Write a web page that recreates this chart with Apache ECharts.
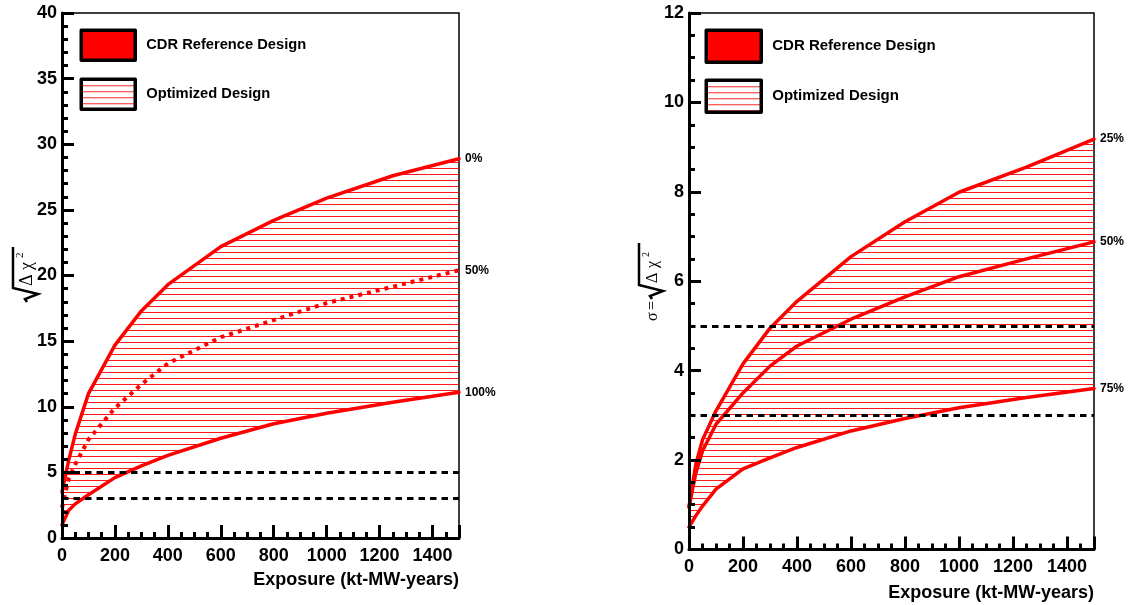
<!DOCTYPE html>
<html>
<head>
<meta charset="utf-8">
<script src="https://cdn.jsdelivr.net/npm/echarts@6/dist/echarts.min.js"></script>
<style>
  html, body { margin: 0; padding: 0; background: #fff; }
  #chart { width: 1132px; height: 605px; }
</style>
</head>
<body>
<div id="chart"></div>
<script>
// exposure sample points (kt-MW-years)
const exposure = [0, 25, 50, 100, 200, 300, 400, 600, 800, 1000, 1250, 1500]

// left panel: sqrt(dchi2) for 0%, 50%, 100%
const leftTop = [3.5, 5.9, 7.9, 11.0, 14.7, 17.3, 19.3, 22.2, 24.2, 25.9, 27.6, 28.9]
const leftMid = [2.3, 4.5, 5.6, 7.5, 9.9, 11.7, 13.3, 15.3, 16.6, 17.9, 19.15, 20.4]
const leftLow = [1.0, 2.1, 2.6, 3.3, 4.6, 5.5, 6.3, 7.6, 8.7, 9.5, 10.35, 11.1]
const leftTags = ['0%', '50%', '100%']

// right panel: sigma for 25%, 50%, 75%
const rightTop = [0.95, 1.9, 2.45, 3.1, 4.15, 4.95, 5.55, 6.55, 7.33, 7.99, 8.55, 9.18]
const rightMid = [0.95, 1.7, 2.2, 2.8, 3.5, 4.1, 4.55, 5.15, 5.65, 6.1, 6.5, 6.88]
const rightLow = [0.5, 0.75, 0.97, 1.35, 1.8, 2.05, 2.28, 2.65, 2.93, 3.17, 3.4, 3.6]
const rightTags = ['25%', '50%', '75%']

const thresholds = [3, 5]
const xTicks = { min: 0, max: 1500, interval: 200 }
const leftY = { min: 0, max: 40, interval: 5, minor: 5 }
const rightY = { min: 0, max: 12, interval: 2, minor: 4 }

const FONT = '"Liberation Sans", Arial, sans-serif'
const SYM = '"Liberation Serif", "DejaVu Serif", serif'
const RED = '#ff0000'

function hatch() {
  const c = document.createElement('canvas')
  c.width = 8
  c.height = 6
  const ctx = c.getContext('2d')
  ctx.fillStyle = 'rgba(255,0,0,0.9)'
  ctx.fillRect(0, 0, 8, 1)
  return { image: c, repeat: 'repeat' }
}
const hatchFill = hatch()

const pts = ys => exposure.map((x, i) => [x, ys[i]])

function xAxisOpt(idx, nameTop) {
  return {
    type: 'value',
    gridIndex: idx,
    min: xTicks.min,
    max: xTicks.max,
    interval: xTicks.interval,
    name: 'Exposure (kt-MW-years)',
    nameLocation: 'end',
    nameGap: 0,
    nameTextStyle: {
      align: 'right', verticalAlign: 'top', padding: [nameTop, 0, 0, 0],
      fontSize: 18, fontWeight: 'bold', color: '#000', fontFamily: FONT
    },
    axisLine: { show: true, onZero: false, lineStyle: { color: '#000', width: 3 } },
    axisTick: { show: true, inside: true, length: 13, lineStyle: { color: '#000', width: 3 } },
    minorTick: { show: true, splitNumber: 4, length: 6, lineStyle: { color: '#000', width: 3 } },
    axisLabel: {
      margin: 9, showMaxLabel: false, formatter: v => String(v),
      color: '#000', fontSize: 18, fontWeight: 'bold', fontFamily: FONT
    },
    splitLine: { show: false },
    z: 5
  }
}

function yAxisOpt(idx, s) {
  return {
    type: 'value',
    gridIndex: idx,
    min: s.min,
    max: s.max,
    interval: s.interval,
    axisLine: { show: true, onZero: false, lineStyle: { color: '#000', width: 3 } },
    axisTick: { show: true, inside: true, length: 12, lineStyle: { color: '#000', width: 3 } },
    minorTick: { show: true, splitNumber: s.minor, length: 6, lineStyle: { color: '#000', width: 3 } },
    axisLabel: { margin: 5, formatter: v => String(v), color: '#000', fontSize: 18, fontWeight: 'bold', fontFamily: FONT },
    splitLine: { show: false },
    z: 5
  }
}

function tagLabel(text) {
  return {
    show: true, formatter: text, distance: 6, color: '#000',
    fontSize: 12, fontWeight: 'bold', fontFamily: FONT
  }
}

function curve(idx, ys, tag, dashed) {
  return {
    name: 'CDR Reference Design',
    type: 'line',
    xAxisIndex: idx,
    yAxisIndex: idx,
    data: pts(ys),
    symbol: 'none',
    silent: true,
    z: 3,
    lineStyle: dashed
      ? { color: RED, width: 4, type: [4, 5] }
      : { color: RED, width: 3.5, join: 'round', cap: 'round' },
    itemStyle: { color: RED },
    endLabel: tagLabel(tag)
  }
}

// hatched band between the outer curves, one polygon through the axes
function band(idx, top, low) {
  return {
    name: 'Optimized Design',
    type: 'custom',
    xAxisIndex: idx,
    yAxisIndex: idx,
    silent: true,
    z: 1,
    itemStyle: { color: RED },
    data: exposure.map((x, i) => [x, low[i], top[i]]),
    encode: { x: 0, y: [1, 2] },
    renderItem(params, api) {
      if (params.dataIndex !== 0) return
      const upper = exposure.map((x, i) => api.coord([x, top[i]]))
      const lower = exposure.map((x, i) => api.coord([x, low[i]])).reverse()
      return {
        type: 'polygon',
        shape: { points: upper.concat(lower) },
        style: { fill: hatchFill, stroke: null }
      }
    }
  }
}

function panel(idx, top, mid, low, tags, midDashed) {
  return [
    band(idx, top, low),
    curve(idx, top, tags[0], false),
    curve(idx, mid, tags[1], midDashed),
    Object.assign(curve(idx, low, tags[2], false), {
      markLine: {
        silent: true,
        symbol: 'none',
        label: { show: false },
        lineStyle: { color: '#000', width: 3.2, type: [6.5, 5] },
        data: thresholds.map(v => ({ yAxis: v }))
      }
    })
  ]
}

function legendOpt(left, top, w, h, gap, fs) {
  return {
    orient: 'vertical',
    left: left,
    top: top,
    padding: 0,
    itemWidth: w,
    itemHeight: h,
    itemGap: gap,
    selectedMode: false,
    textStyle: { fontSize: fs, fontWeight: 'bold', color: '#000', fontFamily: FONT, padding: [0, 0, 0, 6] },
    data: [
      { name: 'CDR Reference Design', icon: 'rect',
        itemStyle: { color: RED, borderColor: '#000', borderWidth: 3.5, borderJoin: 'round' } },
      { name: 'Optimized Design', icon: 'rect',
        itemStyle: { color: hatchFill, borderColor: '#000', borderWidth: 3.5, borderJoin: 'round' } }
    ]
  }
}

// y titles drawn rotated: sqrt sign as a polyline, greek as text
function txt(x, y, s, size) {
  return { type: 'text', x: x, y: y, style: { text: s, font: size + 'px ' + SYM, fill: '#000', verticalAlign: 'bottom' } }
}
function root(x0, w, h) {
  return {
    type: 'polyline',
    shape: { points: [[x0, -9], [x0 + 3, -11], [x0 + 8, 2], [x0 + 14, -h], [x0 + w, -h]] },
    style: { stroke: '#000', lineWidth: 2.5, fill: null }
  }
}

const chart = echarts.init(document.getElementById('chart'))
chart.setOption({
  animation: false,
  backgroundColor: '#fff',
  grid: [
    { left: 62, top: 13, width: 397, height: 525, show: true, borderColor: '#000', borderWidth: 1.5, backgroundColor: 'transparent' },
    { left: 689, top: 13, width: 405, height: 536.4, show: true, borderColor: '#000', borderWidth: 1.5, backgroundColor: 'transparent' }
  ],
  xAxis: [xAxisOpt(0, 33), xAxisOpt(1, 35)],
  yAxis: [yAxisOpt(0, leftY), yAxisOpt(1, rightY)],
  legend: [
    legendOpt(79.5, 28.5, 54, 30, 15.5, 14.7),
    legendOpt(704.5, 28.5, 55, 32, 14.5, 15)
  ],
  graphic: [
    {
      type: 'group', x: 36, y: 302, rotation: Math.PI / 2,
      children: [root(0, 55, 23), txt(16, 0, 'Δ', 18), txt(32, 0, 'χ', 18), txt(44, -10, '2', 11)]
    },
    {
      type: 'group', x: 661, y: 321, rotation: Math.PI / 2,
      children: [txt(0, 0, 'σ', 16), txt(11, 0, '=', 16), root(22, 56, 22), txt(38, 0, 'Δ', 16), txt(53, 0, 'χ', 16), txt(64, -10, '2', 10)]
    }
  ],
  series: [].concat(
    panel(0, leftTop, leftMid, leftLow, leftTags, true),
    panel(1, rightTop, rightMid, rightLow, rightTags, false)
  )
})
</script>
</body>
</html>
